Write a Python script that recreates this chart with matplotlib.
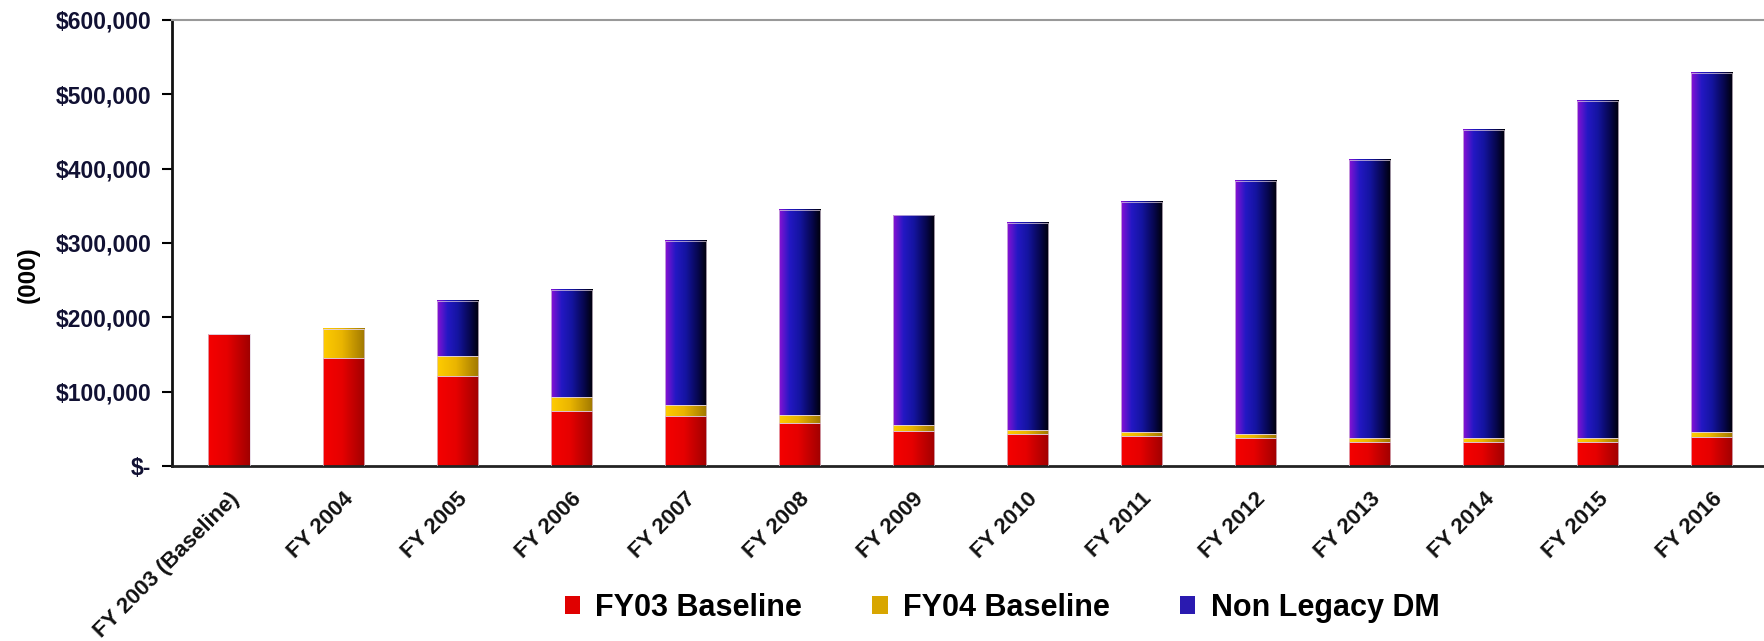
import numpy as np
import matplotlib
matplotlib.use('Agg')
import matplotlib.pyplot as plt
from matplotlib.colors import LinearSegmentedColormap
from matplotlib.patches import Patch
from matplotlib.ticker import FuncFormatter, MultipleLocator

plt.rcParams['font.family'] = ['Liberation Sans', 'DejaVu Sans']

# ── Data (values in $000) ─────────────────────────────────────────────────────
years = ["FY 2003 (Baseline)", "FY 2004", "FY 2005", "FY 2006", "FY 2007",
         "FY 2008", "FY 2009", "FY 2010", "FY 2011", "FY 2012", "FY 2013",
         "FY 2014", "FY 2015", "FY 2016"]
fy03_baseline = [177200, 145000, 121500, 74000, 67000, 58300, 47500, 42600,
                 39900, 37200, 31800, 31900, 31900, 39400]
fy04_baseline = [0, 39300, 26100, 18400, 15000, 10300, 8100, 5400,
                 5400, 5400, 5400, 5300, 5300, 5900]
non_legacy_dm = [0, 0, 74000, 144400, 221000, 276200, 281600, 278500,
                 309900, 341200, 374800, 414800, 454300, 483000]

series_names = ["FY03 Baseline", "FY04 Baseline", "Non Legacy DM"]

# horizontal gradients, light on the left, dark on the right
cmaps = [
    LinearSegmentedColormap.from_list('red', [(0, '#F50000'), (0.45, '#E60000'),
                                              (1, '#A00000')]),
    LinearSegmentedColormap.from_list('gold', [(0, '#FFCC00'), (0.45, '#EAB500'),
                                               (1, '#A07800')]),
    LinearSegmentedColormap.from_list('blue', [(0, '#8A12D4'), (0.25, '#2418C4'),
                                               (0.5, '#1414A0'), (0.8, '#06064A'),
                                               (1, '#000008')]),
]
legend_colors = ['#E00000', '#D8A600', '#2A1AB0']

# ── Figure ────────────────────────────────────────────────────────────────────
fig = plt.figure(figsize=(17.64, 6.41), dpi=100)
ax = fig.add_axes([0.0975, 0.273, 0.9025, 0.696])

x = np.arange(len(years))
width = 0.36
grad = np.linspace(0, 1, 256).reshape(1, -1)

bottom = np.zeros(len(years))
for vals, cmap in zip([fy03_baseline, fy04_baseline, non_legacy_dm], cmaps):
    bars = ax.bar(x, vals, width, bottom=bottom, color='none',
                  edgecolor='#e0d0e0', linewidth=0.5, zorder=3)
    for b in bars:
        if b.get_height() <= 0:
            continue
        x0, y0 = b.get_x(), b.get_y()
        ax.imshow(grad, cmap=cmap, aspect='auto', zorder=2,
                  extent=[x0, x0 + b.get_width(), y0, y0 + b.get_height()])
    bottom += np.array(vals)

ax.set_xlim(-0.5, 13.46)
ax.set_ylim(0, 600000)
ax.yaxis.set_major_locator(MultipleLocator(100000))
ax.yaxis.set_major_formatter(FuncFormatter(
    lambda v, p: "$-" if v == 0 else f"${v:,.0f}"))

ax.set_xticks(x)
ax.set_xticklabels(years, rotation=45, ha='right', rotation_mode='anchor',
                   fontsize=16, fontweight='bold', color='#111111')
ax.tick_params(axis='x', length=0, pad=16)
ax.tick_params(axis='y', length=7, width=1.5, direction='out',
               labelsize=16.5, pad=8, labelcolor='#111133')
for lbl in ax.get_yticklabels():
    lbl.set_fontweight('bold')

ax.spines['right'].set_visible(False)
ax.spines['top'].set_color('#999999')
ax.spines['top'].set_linewidth(1.5)
ax.spines['left'].set_linewidth(2)
ax.spines['bottom'].set_linewidth(2)
ax.spines['left'].set_color('#111111')
ax.spines['bottom'].set_color('#222222')

fig.text(28 / 1764, 1 - 275 / 641, "(000)", rotation=90, ha='center',
         va='center', fontsize=17.5, fontweight='bold')

handles = [Patch(facecolor=c, edgecolor='none') for c in legend_colors]
fig.legend(handles, series_names, loc='center', ncol=3,
           bbox_to_anchor=(1002 / 1764, 1 - 608 / 641), frameon=False,
           prop={'size': 22, 'weight': 'bold'}, handlelength=0.5,
           handleheight=0.55, handletextpad=0.5, columnspacing=2.3)

fig.savefig('out.png', dpi=100)
